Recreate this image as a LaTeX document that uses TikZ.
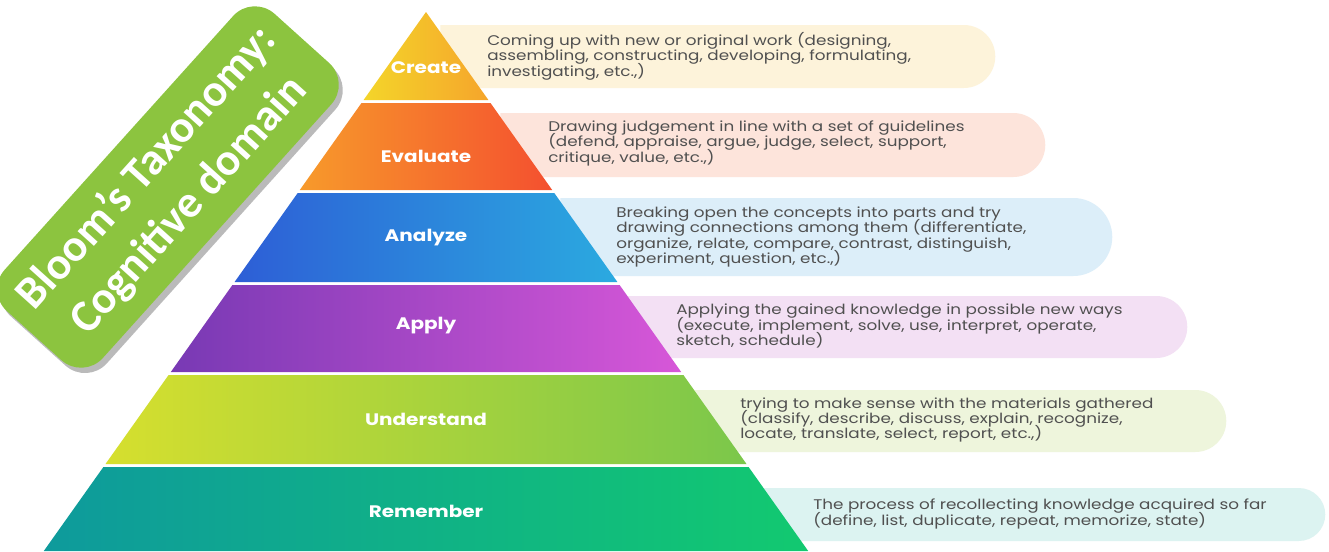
\documentclass[tikz,border=0pt]{standalone}
\usepackage{fontspec}
\setmainfont{Poppins}
\newfontfamily\descfont{Poppins}[FakeStretch=1.2]
\newfontfamily\titlefont{Carlito}
\usetikzlibrary{shapes.misc,shadows,positioning}

\definecolor{createL}{HTML}{F4D52A}
\definecolor{createR}{HTML}{F5A52B}
\definecolor{evalL}{HTML}{F79A2B}
\definecolor{evalR}{HTML}{F4502F}
\definecolor{analyzeL}{HTML}{2D5ED6}
\definecolor{analyzeR}{HTML}{2BAAE0}
\definecolor{applyL}{HTML}{7839B4}
\definecolor{applyR}{HTML}{D757D8}
\definecolor{underL}{HTML}{D6DF2E}
\definecolor{underR}{HTML}{7BC74B}
\definecolor{rememL}{HTML}{0E9A9C}
\definecolor{rememR}{HTML}{12C970}
\definecolor{createbox}{HTML}{FDF3DA}
\definecolor{evalbox}{HTML}{FDE4DB}
\definecolor{analyzebox}{HTML}{DCEEF9}
\definecolor{applybox}{HTML}{F3E0F4}
\definecolor{underbox}{HTML}{EEF5DC}
\definecolor{remembox}{HTML}{DCF3F1}
\definecolor{desctext}{HTML}{505050}
\definecolor{badge}{HTML}{8CC43F}

\newcommand{\pxl}{0.75pt}
\newcommand{\tightlines}{\lineskiplimit=-20pt\relax\lineskip=0pt\relax}

\tikzset{
  layerlabel/.style={text=white, font=\descfont\bfseries\fontsize{12.5}{14}\selectfont},
  descbox/.style={rounded rectangle, rounded rectangle left arc=none, anchor=west, inner sep=0pt},
  desc/.style={anchor=west, align=left, text=desctext, inner sep=0pt,
               font=\descfont\fontsize{10.5}{11.6}\selectfont\tightlines},
}

\begin{document}
\begin{tikzpicture}[x=0.75pt, y=-0.75pt]
  \fill[white] (0,0) rectangle (1329,551);
  \useasboundingbox (0,0) rectangle (1329,551);

  % text boxes behind the pyramid
  \node[descbox, fill=createbox, minimum width=555*\pxl, minimum height=63*\pxl] (bcreate) at (440,56.5) {};
  \node[descbox, fill=evalbox, minimum width=545*\pxl, minimum height=64*\pxl] (bevaluate) at (500,145) {};
  \node[descbox, fill=analyzebox, minimum width=552*\pxl, minimum height=78*\pxl] (banalyze) at (560,237) {};
  \node[descbox, fill=applybox, minimum width=562*\pxl, minimum height=62*\pxl] (bapply) at (625,327) {};
  \node[descbox, fill=underbox, minimum width=536*\pxl, minimum height=62*\pxl] (bunderstand) at (690,421) {};
  \node[descbox, fill=remembox, minimum width=565*\pxl, minimum height=53*\pxl] (bremember) at (760,514.5) {};

  % pyramid layers
  \shade[left color=createL, right color=createR] (426,12) -- (488.4,100) -- (363.6,100) -- cycle;
  \shade[left color=evalL, right color=evalR] (361.5,103) -- (490.5,103) -- (552.2,190) -- (299.8,190) -- cycle;
  \shade[left color=analyzeL, right color=analyzeR] (297.7,193) -- (554.3,193) -- (617.4,282) -- (234.6,282) -- cycle;
  \shade[left color=applyL, right color=applyR] (232.4,285) -- (619.6,285) -- (681.2,372) -- (170.8,372) -- cycle;
  \shade[left color=underL, right color=underR] (168.6,375) -- (683.4,375) -- (746.5,464) -- (105.5,464) -- cycle;
  \shade[left color=rememL, right color=rememR] (103.4,467) -- (748.6,467) -- (808.2,551) -- (43.8,551) -- cycle;

  \node[layerlabel] (create) at (426,68) {Create};
  \node[layerlabel] (evaluate) at (426,156) {Evaluate};
  \node[layerlabel] (analyze) at (426,238) {Analyze};
  \node[layerlabel] (apply) at (426,326) {Apply};
  \node[layerlabel] (understand) at (426,419) {Understand};
  \node[layerlabel] (remember) at (426,511) {Remember};

  % descriptions
  \node[desc] (dcreate) at (487,56) {Coming up with new or original work (designing,\\assembling, constructing, developing, formulating,\\investigating, etc.,)};
  \node[desc] (devaluate) at (548,143) {Drawing judgement in line with a set of guidelines\\(defend, appraise, argue, judge, select, support,\\critique, value, etc.,)};
  \node[desc] (danalyze) at (616,237) {Breaking open the concepts into parts and try\\drawing connections among them (differentiate,\\organize, relate, compare, contrast, distinguish,\\experiment, question, etc.,)};
  \node[desc] (dapply) at (676,326) {Applying the gained knowledge in possible new ways\\(execute, implement, solve, use, interpret, operate,\\sketch, schedule)};
  \node[desc] (dunderstand) at (740,420) {trying to make sense with the materials gathered\\(classify, describe, discuss, explain, recognize,\\locate, translate, select, report, etc.,)};
  \node[desc] (dremember) at (813,514) {The process of recollecting knowledge acquired so far\\(define, list, duplicate, repeat, memorize, state)};

  % title badge
  \node[fill=badge, rounded corners=22pt, rotate=48, minimum width=400*\pxl, minimum height=132*\pxl,
        text=white, align=center, font=\titlefont\bfseries\fontsize{34}{42}\selectfont,
        drop shadow={shadow xshift=3pt, shadow yshift=-4pt, opacity=0.45, fill=black!60}] (title) at (168,187)
        {Bloom’s Taxonomy:\\Cognitive domain};
\end{tikzpicture}
\end{document}
